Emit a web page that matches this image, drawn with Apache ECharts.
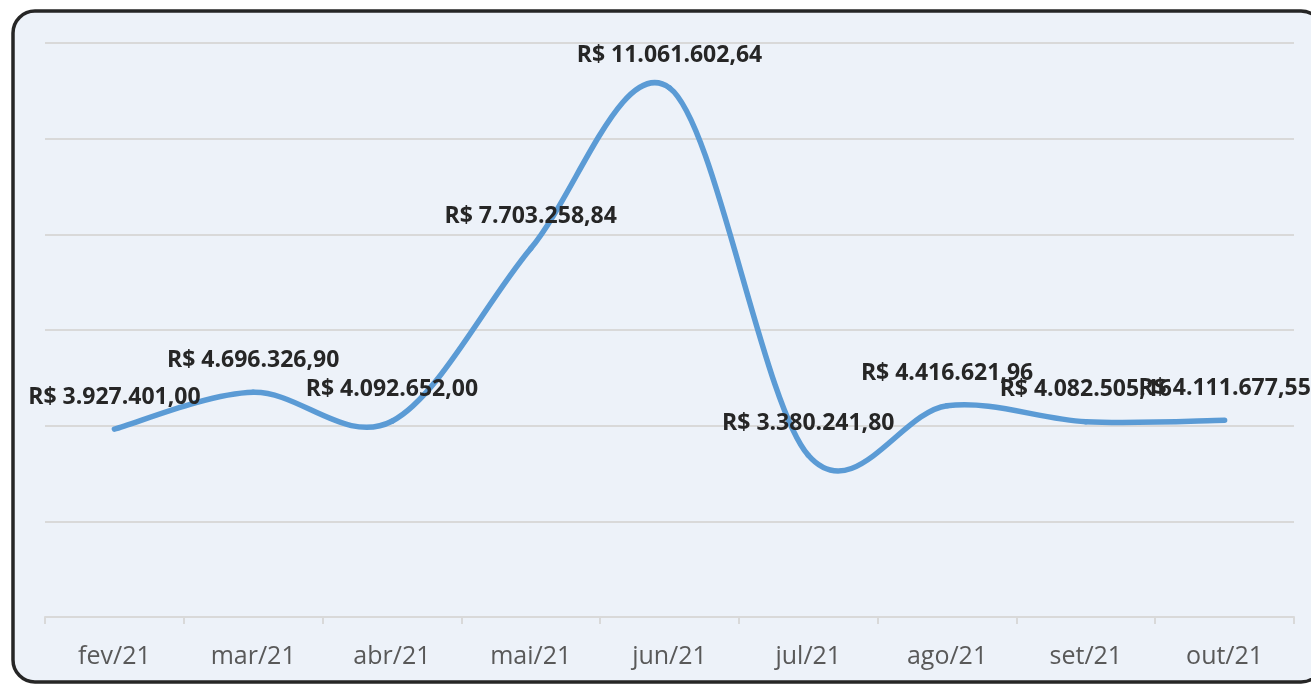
<!DOCTYPE html>
<html><head><meta charset="utf-8">
<script src="https://cdn.jsdelivr.net/npm/echarts@6/dist/echarts.min.js"></script>
<style>html,body{margin:0;padding:0;background:#fff}#c{width:1311px;height:685px}</style>
</head><body><div id="c"></div>
<script>
const categories = ['fev/21','mar/21','abr/21','mai/21','jun/21','jul/21','ago/21','set/21','out/21'];
const values = [3927401.00, 4696326.90, 4092652.00, 7703258.84, 11061602.64, 3380241.80, 4416621.96, 4082505.16, 4111677.55];
const yMin = 0, yMax = 12000000, yStep = 2000000;

function brl(v){
  const parts = v.toFixed(2).split('.');
  const int = parts[0].replace(/\B(?=(\d{3})+(?!\d))/g, '.');
  return 'R$ ' + int + ',' + parts[1];
}
// Excel-like smoothed segment (Catmull-Rom, 1/6 tangent) between point i and i+1
function renderSegment(params, api){
  const i = params.dataIndex;
  if (i >= values.length - 1) return null;
  const n = values.length;
  const P = k => api.coord([Math.max(0, Math.min(n-1, k)), values[Math.max(0, Math.min(n-1, k))]]);
  const p0 = P(i-1), p1 = P(i), p2 = P(i+1), p3 = P(i+2);
  const c1 = [p1[0] + (p2[0]-p0[0])/6, p1[1] + (p2[1]-p0[1])/6];
  const c2 = [p2[0] - (p3[0]-p1[0])/6, p2[1] - (p3[1]-p1[1])/6];
  return {type:'bezierCurve', shape:{x1:p1[0],y1:p1[1],cpx1:c1[0],cpy1:c1[1],cpx2:c2[0],cpy2:c2[1],x2:p2[0],y2:p2[1]},
    style:{stroke:'#5B9BD5', lineWidth:5.5, fill:null, lineCap:'round'}};
}
const chart = echarts.init(document.getElementById('c'), null, {renderer:'canvas'});
chart.setOption({
  animation:false,
  backgroundColor:'#ffffff',
  graphic:[{type:'rect', z:-10, shape:{x:13,y:11,width:1310,height:671,r:22},
    style:{fill:'#EDF2F9', stroke:'#262626', lineWidth:3.5}}],
  grid:{left:45,right:17,top:43,bottom:68},
  xAxis:{type:'category',data:categories,boundaryGap:true,
    axisLine:{lineStyle:{color:'#D9D9D9',width:2}},
    axisTick:{show:true,length:7,lineStyle:{color:'#D9D9D9',width:2}},
    axisLabel:{color:'#595959',fontSize:25,fontFamily:'Open Sans',margin:27}},
  yAxis:{type:'value',min:yMin,max:yMax,interval:yStep,
    axisLabel:{show:false},axisLine:{show:false},axisTick:{show:false},
    splitLine:{lineStyle:{color:'#D9D9D9',width:2}}},
  series:[
    {type:'custom', data:values.map((v,i)=>[i,v]), renderItem:renderSegment, z:2, silent:true},
    {type:'scatter', data:values, symbol:'circle', symbolSize:1, z:3,
      itemStyle:{color:'rgba(0,0,0,0)'},
      labelLayout:{hideOverlap:false},
      label:{show:true,position:'top',distance:20,offset:[2,0],formatter:p=>brl(p.value),
        color:'#262626',opacity:1,fontSize:23,fontWeight:'bold',fontFamily:'Open Sans'}}
  ]
});
</script></body></html>
